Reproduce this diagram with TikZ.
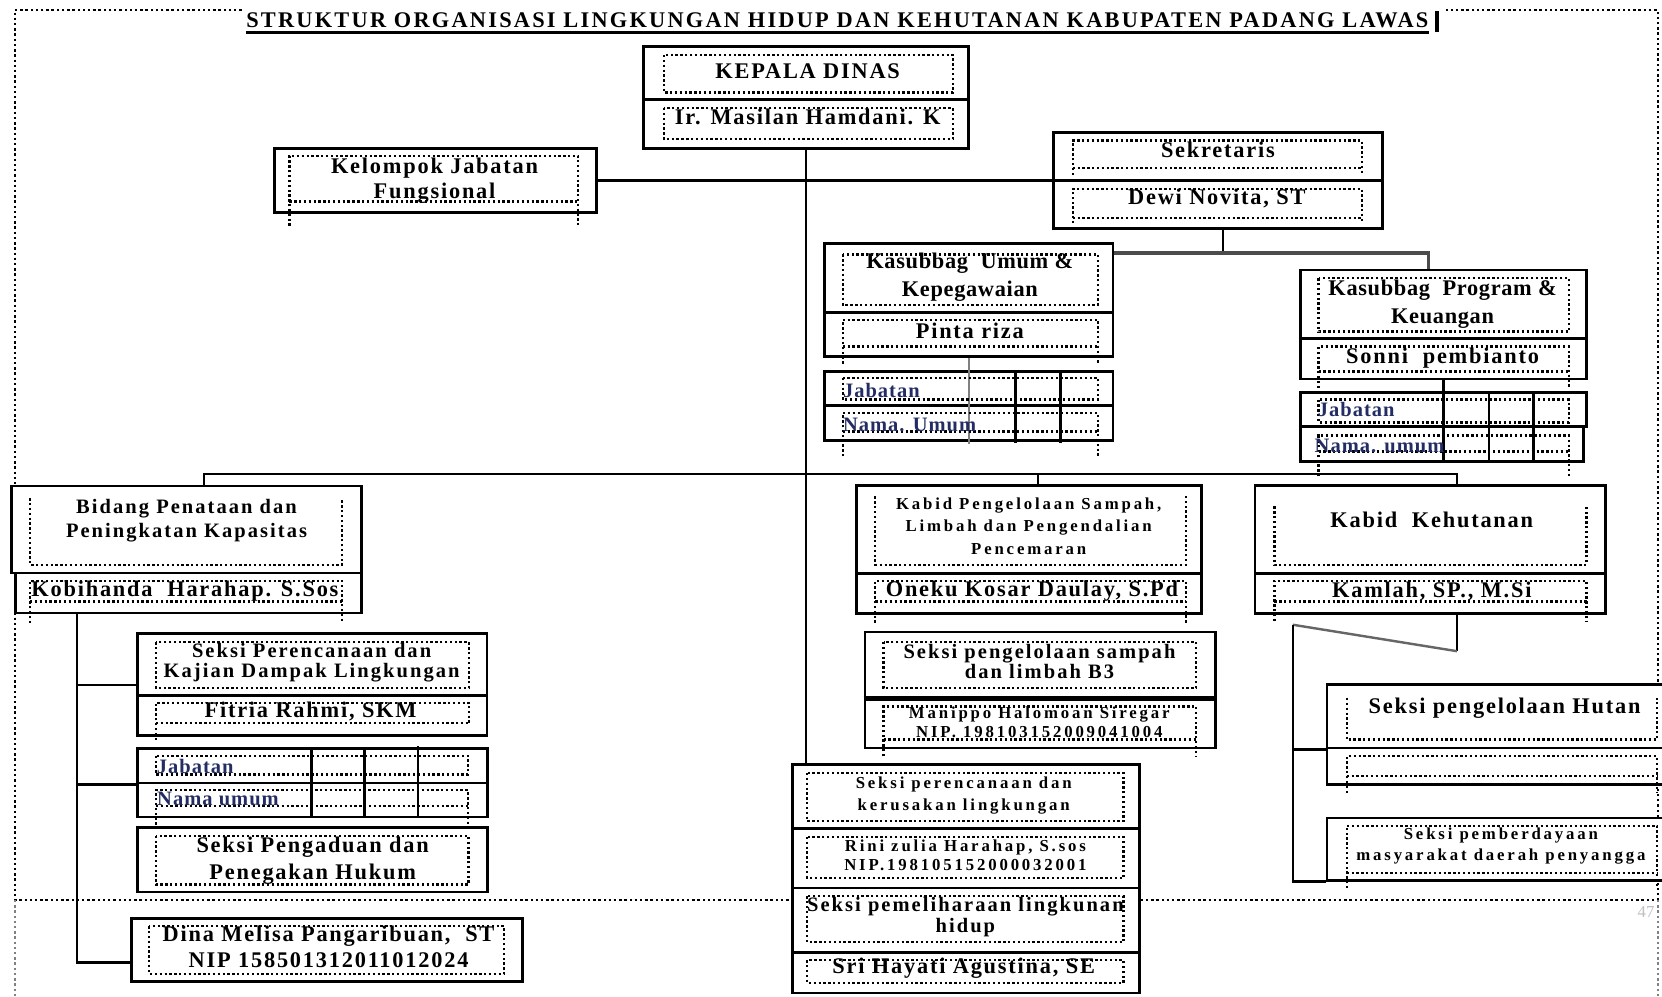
\documentclass[tikz,border=0pt]{standalone}
\usepackage{fontspec}
\setmainfont{Liberation Serif}
\newfontfamily\fwide{Liberation Serif}[LetterSpace=8]
\newfontfamily\ftitle{Liberation Serif}[LetterSpace=10]
\newfontfamily\fnarrow{Liberation Serif}[LetterSpace=3]
\newfontfamily\fmid{Liberation Serif}[LetterSpace=10]
\newfontfamily\fsmall{Liberation Serif}[LetterSpace=17]
\newfontfamily\ftab{Liberation Serif}[LetterSpace=5]
\definecolor{tabblue}{RGB}{35,45,100}
\begin{document}
\begin{tikzpicture}[x=0.2mm, y=-0.2mm,
    cell/.style 2 args={draw, line width=1.5pt, fill=white, inner sep=0pt,
      minimum width=#1*0.2mm, minimum height=#2*0.2mm},
    dots/.style={line width=1.25pt, dash pattern=on 1.25pt off 1.35pt},
    page/.style={line width=1.3pt, dash pattern=on 1.3pt off 1.5pt},
    link/.style={line width=1.3pt},
    lbl/.style={align=center, inner sep=0pt, font=\fwide\bfseries\fontsize{12}{13.5}\selectfont},
    lblk/.style={align=center, inner sep=0pt, font=\fnarrow\bfseries\fontsize{12}{15}\selectfont},
    lblm/.style={align=center, inner sep=0pt, font=\fmid\bfseries\fontsize{11}{11.5}\selectfont},
    lbls/.style={align=center, inner sep=0pt, font=\fsmall\bfseries\fontsize{9}{11}\selectfont},
    lblt/.style={anchor=west, inner sep=0pt, text=tabblue, font=\ftab\bfseries\fontsize{11}{12}\selectfont},
  ]
  \useasboundingbox (0,0) rectangle (1568,940);
  \clip (0,0) rectangle (1568,940);

  % page border
  \draw[page] (228,9.4) -| (14,849) -| (1564,9.4) -- (1362,9.4);
  \draw[page, gray] (14,849) -- (14,940) (1564,849) -- (1564,940);

  % title
  \node[inner sep=0pt, font=\ftitle\bfseries\fontsize{12}{14}\selectfont] (title) at (790,19.5)
    {STRUKTUR ORGANISASI LINGKUNGAN HIDUP DAN KEHUTANAN KABUPATEN PADANG LAWAS};
  \draw[line width=1.6pt] ([yshift=-0.7mm]title.south west) -- ([yshift=-0.7mm]title.south east);
  \draw[line width=2.4pt] ([xshift=1.5mm,yshift=-0.7mm]title.south east) -- ++(0,4.1mm);

  % boxes
  \node[cell={307}{50}] (kd1) at (760.5,69) {};
  \node[cell={307}{46}] (kd2) at (760.5,117) {};
  \node[cell={304}{60}] (kj) at (410.8,170.4) {};
  \node[cell={310}{45.6}] (sek1) at (1149,147.6) {};
  \node[cell={310}{44.9}] (sek2) at (1149,192.85) {};
  \node[cell={272}{65}] (kub1) at (914,262.5) {};
  \node[cell={272}{41}] (kub2) at (914,315.5) {};
  \node[cell={272}{32}] (tu1) at (914,366.5) {};
  \node[cell={272}{33}] (tu2) at (914,399) {};
  \node[cell={270}{65}] (kpk1) at (1362,287.2) {};
  \node[cell={270}{38}] (kpk2) at (1362,338.6) {};
  \node[cell={270}{32.6}] (tp1) at (1362,386.3) {};
  \node[cell={267}{32.8}] (tp2) at (1360.5,419) {};
  \node[cell={330}{82}] (bid1) at (176,499.5) {};
  \node[cell={326.5}{37.8}] (bid2) at (177.8,559.4) {};
  \node[cell={330}{58}] (sp1) at (294.5,627) {};
  \node[cell={330}{38}] (sp2) at (294.5,674.9) {};
  \node[cell={330}{32.4}] (ts1) at (294.6,722.5) {};
  \node[cell={330}{32}] (ts2) at (294.6,754.7) {};
  \node[cell={330}{60.5}] (spd) at (294.7,811.3) {};
  \node[cell={368.7}{59}] (dina) at (308.4,896.2) {};
  \node[cell={326}{82.4}] (ks1) at (970.9,499.5) {};
  \node[cell={326}{37.7}] (ks2) at (970.9,559.6) {};
  \node[cell={330.7}{61.7}] (ss1) at (981.4,627.2) {};
  \node[cell={330.7}{47.7}] (ss2) at (981.4,681.9) {};
  \node[cell={327}{60.3}] (rk1) at (911.5,751.6) {};
  \node[cell={327}{56}] (rk2) at (911.5,809.7) {};
  \node[cell={327}{60.7}] (rk3) at (911.5,868.1) {};
  \node[cell={327}{38.3}] (rk4) at (911.5,917.6) {};
  \node[cell={331}{82.4}] (kk1) at (1349.5,499.5) {};
  \node[cell={331}{38.3}] (kk2) at (1349.5,559.9) {};
  \node[cell={336}{59.7}] (sh1) at (1420,675.9) {};
  \node[cell={336}{34.6}] (sh2) at (1420,723) {};
  \node[cell={336}{58.8}] (pm) at (1420,801.1) {};

  % table columns
  \draw[line width=1.5pt] (958,350.5) -- (958,418) (1000.5,350.5) -- (1000.5,418);
  \draw[line width=1.5pt] (1404.7,370) -- (1404.7,435.4) (1446.5,370) -- (1446.5,435.4);
  \draw[line width=1.5pt] (293.7,706.3) -- (293.7,770.7) (343.6,706.3) -- (343.6,770.7)
    (394.3,704) -- (394.3,770.7);
  \draw[line width=2.6pt] (ss1.south west) -- (ss1.south east);

  % connectors
  \draw[link] (kd2.south) -- (kd2.south |- rk1.north);
  \draw[link] (kj.east) -- (kj.east -| sek1.west);
  \coordinate (sekbus) at (1154,240);
  \draw[link] (sek2.south -| sekbus) -- (sekbus);
  \draw[link, black!70, line width=1.7pt] ([yshift=-2mm]kub1.north east) -| ([xshift=-2.8mm]kpk1.north);
  \draw[link, gray] (kub2.south) -- ([yshift=-0.5mm]tu2.south);
  \draw[link] (kpk2.south) -- (kpk2.south |- tp2.south);
  \draw[link] ([xshift=3.34mm]bid1.north) -- ++(0,2mm) -| ([xshift=5.02mm]kk1.north);
  \draw[link] ([xshift=1.7mm]ks1.north) -- ++(0,2mm);
  \coordinate (ldrop) at ([xshift=11.9mm]bid2.south west);
  \draw[link] (ldrop) |- ([yshift=-2.4mm]dina.west);
  \coordinate (spjoin) at ([yshift=-3.8mm]sp1.west);
  \draw[link] (spjoin) -- (spjoin -| ldrop);
  \draw[link] (ts1.south west) -- (ts1.south west -| ldrop);
  \draw[link] ([xshift=5.02mm]kk2.south) -- ++(0,-6.8mm) coordinate (kturn);
  \coordinate (kbend) at (1219.6,589.4);
  \draw[link, black!60] (kturn) -- (kbend);
  \draw[link] (kbend) |- (pm.south west);
  \draw[link] (sh1.south west) -- (sh1.south west -| kbend);

  % dotted frames inside the boxes
  \draw[dots] (626.5,51.9) rectangle (899,87.4) (626.5,102) rectangle (899,131.4);
  \draw[dots] (273,213) |- (545.6,147) -- (545.6,213) (273,190.2) -- (545.6,190.2);
  \draw[dots] (1012,165) |- (1285,132.7) -- (1285,165) (1012,158.7) -- (1285,158.7);
  \draw[dots] (1012,210.6) |- (1285,178.2) -- (1285,210.6) (1012,205.9) -- (1285,205.9);
  \draw[dots] (795,240) rectangle (1036,287.6);
  \draw[dots] (795,343) |- (1036,302) -- (1036,343) (795,327) -- (1036,327);
  \draw[dots] (795,356.5) rectangle (1036,377);
  \draw[dots] (795,430.6) |- (1036,389.8) -- (1036,430.6) (795,407) -- (1036,407);
  \draw[dots] (1244,262.5) rectangle (1480,312.8);
  \draw[dots] (1244,366) |- (1480,327) -- (1480,366) (1244,350.5) -- (1480,350.5);
  \draw[dots] (1244,377) rectangle (1480,398.6);
  \draw[dots] (1244,449.5) |- (1480,410.8) -- (1480,449.5) (1244,426) -- (1480,426);
  \draw[dots] (28.3,470) |- (322.8,532.8) -- (322.8,470);
  \draw[dots] (28.3,587.7) |- (322.8,547.9) -- (322.8,586) (28.3,567.4) -- (322.8,567.4);
  \draw[dots] (147,606) rectangle (442.5,649);
  \draw[dots] (147,698) |- (442.5,663) -- (442.5,682) (147,682) -- (442.5,682);
  \draw[dots] (147,713) rectangle (441.5,730.8);
  \draw[dots] (147,778) |- (441.5,745.6) -- (441.5,778) (147,760.7) -- (441.5,760.7);
  \draw[dots] (147.2,788.4) rectangle (441.9,834.6);
  \draw[dots] (140.8,873.8) rectangle (475.5,918.8);
  \draw[dots] (825.8,468.4) |- (1119,532.8) -- (1119,468.4);
  \draw[dots] (825.8,587.5) |- (1119,547.9) -- (1119,587.5) (825.8,567.4) -- (1119,567.4);
  \draw[dots] (833.6,605.7) rectangle (1128.5,649);
  \draw[dots] (833.6,713.5) |- (1128.5,666.4) -- (1128.5,713.5) (833.6,697.8) -- (1128.5,697.8);
  \draw[dots] (761.6,729.3) rectangle (1060,774.8) (761.6,789.6) rectangle (1060,828.3)
    (761.6,845.5) rectangle (1060,889) (761.6,906) rectangle (1060,927.3);
  \draw[dots] (1202.3,477.8) |- (1496.8,532.8) -- (1496.8,477.8);
  \draw[dots] (1202.3,586) |- (1496.8,548) -- (1496.8,586) (1202.3,567.4) -- (1496.8,567.4);
  \draw[dots] (1270.5,658.5) |- (1563.5,697.8) -- (1563.5,658.5);
  \draw[dots] (1270.5,748) |- (1563.5,713.5) -- (1563.5,748) (1270.5,732.4) -- (1563.5,732.4);
  \draw[dots] (1270.5,838) |- (1563.5,779) -- (1563.5,838) (1270.5,823.5) -- (1563.5,823.5);

  % texts
  \node[lbl] (kdt1) at (762,67.6) {KEPALA DINAS};
  \node[lbl] (kdt2) at (762,110) {Ir. Masilan Hamdani. K};
  \node[lbl] (kjt) at (410,170.5) {Kelompok Jabatan\\Fungsional};
  \node[lbl] (sekt1) at (1149,141.5) {Sekretaris};
  \node[lbl] (sekt2) at (1148,187) {Dewi Novita, ST};
  \node[lblk] (kubt1) at (915,261.5) {Kasubbag\ \ Umum \&\\Kepegawaian};
  \node[lbl] (kubt2) at (915,312) {Pinta riza};
  \node[lblt] (tut1) at (795,368) {Jabatan};
  \node[lblt] (tut2) at (795,400.7) {Nama. Umum};
  \node[lblk] (kpkt1) at (1361,286.7) {Kasubbag\ \ Program \&\\Keuangan};
  \node[lbl] (kpkt2) at (1361,337.7) {Sonni\ \ pembianto};
  \node[lblt] (tpt1) at (1243,386.6) {Jabatan};
  \node[lblt] (tpt2) at (1240,421) {Nama. umum};
  \node[lblm] (bidt1) at (176,491.2) {Bidang Penataan dan\\[1.9pt]Peningkatan Kapasitas};
  \node[lbl] (bidt2) at (174.5,558) {Kobihanda\ \ Harahap. S.Sos};
  \node[lblm] (spt1) at (294,625.3) {Seksi Perencanaan dan\\[-0.5pt]Kajian Dampak Lingkungan};
  \node[lbl] (spt2) at (293,671) {Fitria Rahmi, SKM};
  \node[lblt] (tst1) at (147.7,723) {Jabatan};
  \node[lblt] (tst2) at (148,753.8) {Nama umum};
  \node[lbl] (spdt) at (295,812) {Seksi Pengaduan dan\\[1.2pt]Penegakan Hukum};
  \node[lbl] (dinat) at (310,893) {Dina Melisa Pangaribuan,\ \ ST\\[0.4pt]NIP 158501312011012024};
  \node[lbls] (kst1) at (970.5,496.5) {Kabid Pengelolaan Sampah,\\[1pt]Limbah dan Pengendalian\\[1pt]Pencemaran};
  \node[lbl] (kst2) at (973.6,558) {Oneku Kosar Daulay, S.Pd};
  \node[lblm] (sst1) at (980.7,624.2) {Seksi pengelolaan sampah\\[-1.1pt]dan limbah B3};
  \node[lbls] (sst2) at (980.5,681.4) {Manippo Halomoan Siregar\\[-1.2pt]NIP. 198103152009041004};
  \node[lbls] (rkt1) at (909.2,750.5) {Seksi perencanaan dan\\[0.5pt]kerusakan lingkungan};
  \node[lbls] (rkt2) at (910.8,806.6) {Rini zulia Harahap, S.sos\\[-0.7pt]NIP.198105152000032001};
  \node[lblm] (rkt3) at (910.8,865.2) {Seksi pemeliharaan lingkunan\\hidup};
  \node[lbl] (rkt4) at (909.2,913) {Sri Hayati Agustina, SE};
  \node[lbl] (kkt1) at (1350.8,490.4) {Kabid\ \ Kehutanan};
  \node[lbl] (kkt2) at (1350.8,558) {Kamlah, SP., M.Si};
  \node[lbl] (sht) at (1419.5,668) {Seksi pengelolaan Hutan};
  \node[lbls] (pmt) at (1416,798.4) {Seksi pemberdayaan\\masyarakat daerah penyangga};
  \node[font=\fontsize{9}{10}\selectfont, text=gray!50] (pgno) at (1553,860) {47};
\end{tikzpicture}
\end{document}
